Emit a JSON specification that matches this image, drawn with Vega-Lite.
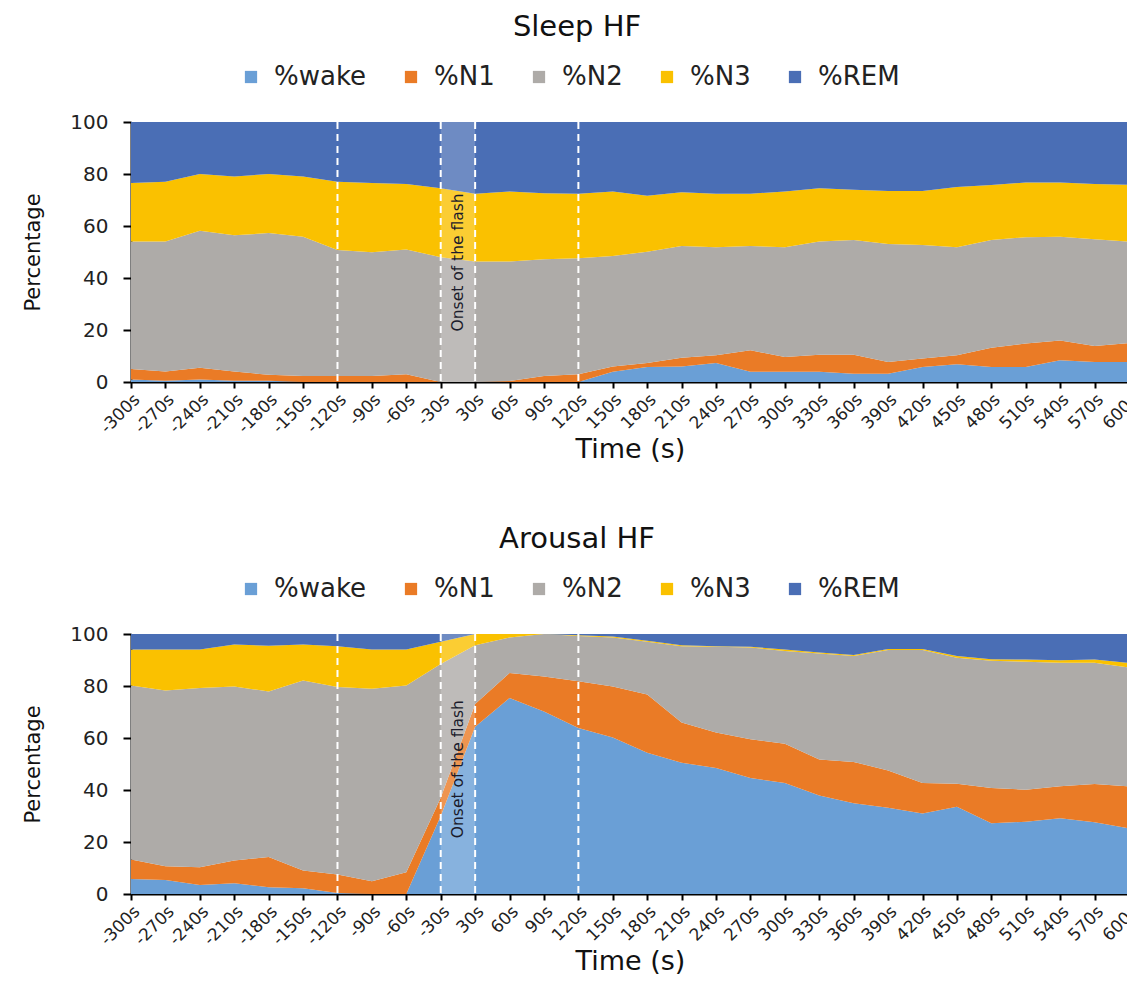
{
  "$schema": "https://vega.github.io/schema/vega-lite/v6.json",
  "background": "white",
  "padding": {"left": 22, "top": 12, "right": 0, "bottom": 0},
  "config": {
    "view": {"stroke": "#d4d9e2", "strokeWidth": 1},
    "font": "DejaVu Sans"
  },
  "datasets": {
    "sleep": [
      {"t": "-300s", "wake": 1, "n1": 4, "n2": 49, "n3": 22.5, "rem": 23.5},
      {"t": "-270s", "wake": 0.5, "n1": 3.5, "n2": 50, "n3": 23, "rem": 23},
      {"t": "-240s", "wake": 1, "n1": 4.5, "n2": 52.7, "n3": 21.8, "rem": 20},
      {"t": "-210s", "wake": 0.5, "n1": 3.5, "n2": 52.4, "n3": 22.6, "rem": 21},
      {"t": "-180s", "wake": 0.5, "n1": 2.3, "n2": 54.5, "n3": 22.7, "rem": 20},
      {"t": "-150s", "wake": 0, "n1": 2.3, "n2": 53.6, "n3": 23.1, "rem": 21},
      {"t": "-120s", "wake": 0, "n1": 2.3, "n2": 48.5, "n3": 26.2, "rem": 23},
      {"t": "-90s", "wake": 0, "n1": 2.3, "n2": 47.6, "n3": 26.6, "rem": 23.5},
      {"t": "-60s", "wake": 0, "n1": 3, "n2": 48, "n3": 25.2, "rem": 23.8},
      {"t": "-30s", "wake": 0, "n1": 0, "n2": 48, "n3": 26.5, "rem": 25.5},
      {"t": "30s", "wake": 0, "n1": 0, "n2": 46.3, "n3": 26.1, "rem": 27.6},
      {"t": "60s", "wake": 0, "n1": 0.4, "n2": 45.9, "n3": 27, "rem": 26.7},
      {"t": "90s", "wake": 0, "n1": 2.3, "n2": 44.9, "n3": 25.4, "rem": 27.4},
      {"t": "120s", "wake": 0, "n1": 3, "n2": 44.6, "n3": 24.8, "rem": 27.6},
      {"t": "150s", "wake": 3.9, "n1": 2.1, "n2": 42.5, "n3": 24.8, "rem": 26.7},
      {"t": "180s", "wake": 5.8, "n1": 1.5, "n2": 42.8, "n3": 21.5, "rem": 28.4},
      {"t": "210s", "wake": 6, "n1": 3.3, "n2": 43, "n3": 20.7, "rem": 27},
      {"t": "240s", "wake": 7.3, "n1": 3, "n2": 41.5, "n3": 20.6, "rem": 27.6},
      {"t": "270s", "wake": 3.9, "n1": 8.3, "n2": 40.1, "n3": 20.1, "rem": 27.6},
      {"t": "300s", "wake": 3.9, "n1": 5.7, "n2": 42.2, "n3": 21.5, "rem": 26.7},
      {"t": "330s", "wake": 3.9, "n1": 6.6, "n2": 43.5, "n3": 20.5, "rem": 25.5},
      {"t": "360s", "wake": 3.2, "n1": 7.3, "n2": 44.1, "n3": 19.3, "rem": 26.1},
      {"t": "390s", "wake": 3.2, "n1": 4.5, "n2": 45.4, "n3": 20.4, "rem": 26.5},
      {"t": "420s", "wake": 5.8, "n1": 3.2, "n2": 43.7, "n3": 20.8, "rem": 26.5},
      {"t": "450s", "wake": 6.8, "n1": 3.5, "n2": 41.5, "n3": 23.2, "rem": 25},
      {"t": "480s", "wake": 5.8, "n1": 7.4, "n2": 41.4, "n3": 21.2, "rem": 24.2},
      {"t": "510s", "wake": 5.8, "n1": 9, "n2": 40.9, "n3": 21, "rem": 23.3},
      {"t": "540s", "wake": 8.4, "n1": 7.6, "n2": 39.9, "n3": 20.8, "rem": 23.3},
      {"t": "570s", "wake": 7.7, "n1": 6.1, "n2": 41.1, "n3": 21.3, "rem": 23.8},
      {"t": "600s", "wake": 7.7, "n1": 7.3, "n2": 39, "n3": 21.8, "rem": 24.2}
    ],
    "arousal": [
      {"t": "-300s", "wake": 5.8, "n1": 7.5, "n2": 66.9, "n3": 13.8, "rem": 6},
      {"t": "-270s", "wake": 5.4, "n1": 5.3, "n2": 67.6, "n3": 15.7, "rem": 6},
      {"t": "-240s", "wake": 3.5, "n1": 6.8, "n2": 68.9, "n3": 14.8, "rem": 6},
      {"t": "-210s", "wake": 4.1, "n1": 8.8, "n2": 66.9, "n3": 16.2, "rem": 4},
      {"t": "-180s", "wake": 2.6, "n1": 11.6, "n2": 63.7, "n3": 17.6, "rem": 4.5},
      {"t": "-150s", "wake": 2.2, "n1": 6.8, "n2": 73.1, "n3": 13.9, "rem": 4},
      {"t": "-120s", "wake": 0.4, "n1": 7.1, "n2": 72.1, "n3": 15.7, "rem": 4.7},
      {"t": "-90s", "wake": 0, "n1": 4.9, "n2": 74, "n3": 15.1, "rem": 6},
      {"t": "-60s", "wake": 0, "n1": 8.4, "n2": 71.8, "n3": 13.8, "rem": 6},
      {"t": "-30s", "wake": 30, "n1": 7, "n2": 51.5, "n3": 8.5, "rem": 3},
      {"t": "30s", "wake": 64.3, "n1": 8.8, "n2": 22.6, "n3": 4.3, "rem": 0},
      {"t": "60s", "wake": 75.4, "n1": 9.6, "n2": 13.7, "n3": 1.3, "rem": 0},
      {"t": "90s", "wake": 70.2, "n1": 13.5, "n2": 16.3, "n3": 0, "rem": 0},
      {"t": "120s", "wake": 63.8, "n1": 18, "n2": 17.4, "n3": 0.3, "rem": 0.5},
      {"t": "150s", "wake": 60.2, "n1": 19.6, "n2": 18.9, "n3": 0.3, "rem": 1},
      {"t": "180s", "wake": 54.3, "n1": 22.4, "n2": 20.3, "n3": 0.4, "rem": 2.6},
      {"t": "210s", "wake": 50.5, "n1": 15.5, "n2": 29.3, "n3": 0.4, "rem": 4.3},
      {"t": "240s", "wake": 48.5, "n1": 13.6, "n2": 33, "n3": 0.2, "rem": 4.7},
      {"t": "270s", "wake": 44.6, "n1": 14.9, "n2": 35.3, "n3": 0.3, "rem": 4.9},
      {"t": "300s", "wake": 42.7, "n1": 15.1, "n2": 35.7, "n3": 0.5, "rem": 6},
      {"t": "330s", "wake": 37.9, "n1": 13.8, "n2": 40.8, "n3": 0.4, "rem": 7.1},
      {"t": "360s", "wake": 34.9, "n1": 15.9, "n2": 40.7, "n3": 0.4, "rem": 8.1},
      {"t": "390s", "wake": 33.2, "n1": 14.3, "n2": 46.3, "n3": 0.4, "rem": 5.8},
      {"t": "420s", "wake": 31, "n1": 11.7, "n2": 51.1, "n3": 0.4, "rem": 5.8},
      {"t": "450s", "wake": 33.6, "n1": 8.8, "n2": 48.5, "n3": 0.6, "rem": 8.5},
      {"t": "480s", "wake": 27.2, "n1": 13.6, "n2": 48.9, "n3": 0.6, "rem": 9.7},
      {"t": "510s", "wake": 27.8, "n1": 12.3, "n2": 49.2, "n3": 0.9, "rem": 9.8},
      {"t": "540s", "wake": 29.1, "n1": 12.3, "n2": 47.5, "n3": 1, "rem": 10.1},
      {"t": "570s", "wake": 27.6, "n1": 14.7, "n2": 46.6, "n3": 1.3, "rem": 9.8},
      {"t": "600s", "wake": 25.2, "n1": 16.2, "n2": 45.7, "n3": 1.8, "rem": 11.1}
    ],
    "guides": [{"t": "-120s"}, {"t": "-30s"}, {"t": "30s"}, {"t": "120s"}],
    "band": [{"t": "-30s"}, {"t": "30s"}],
    "note": [{"t": "-30s", "note": "Onset of the flash"}]
  },
  "vconcat": [
    {
      "width": 998,
      "height": 260,
      "title": {"text": "Sleep HF", "font": "DejaVu Sans", "fontSize": 29, "fontWeight": "normal", "color": "#111111", "anchor": "middle", "dx": -53, "offset": 22},
      "layer": [
        {
          "data": {"name": "sleep"},
          "transform": [
            {"fold": ["wake", "n1", "n2", "n3", "rem"], "as": ["stage", "pct"]},
            {"lookup": "stage", "from": {"data": {"values": [
              {"stage": "wake", "label": "%wake", "rank": 1},
              {"stage": "n1", "label": "%N1", "rank": 2},
              {"stage": "n2", "label": "%N2", "rank": 3},
              {"stage": "n3", "label": "%N3", "rank": 4},
              {"stage": "rem", "label": "%REM", "rank": 5}
            ]}, "key": "stage", "fields": ["label", "rank"]}}
          ],
          "mark": {"type": "area", "interpolate": "linear"},
          "encoding": {
            "x": {
              "field": "t", "type": "ordinal",
              "scale": {"type": "point", "domain": ["-300s","-270s","-240s","-210s","-180s","-150s","-120s","-90s","-60s","-30s","30s","60s","90s","120s","150s","180s","210s","240s","270s","300s","330s","360s","390s","420s","450s","480s","510s","540s","570s","600s"], "padding": 0},
              "axis": {"title": "Time (s)", "titleFont": "DejaVu Sans", "titleFontSize": 27, "titleFontWeight": "normal", "titleColor": "#111111", "titlePadding": 1, "labelAngle": -45, "labelFont": "DejaVu Sans", "labelFontSize": 17, "labelColor": "#222222", "labelPadding": 3, "labelOverlap": false, "labelBound": false, "domainColor": "#000000", "domainWidth": 2, "tickColor": "#000000", "tickWidth": 2, "tickSize": 6}
            },
            "y": {
              "field": "pct", "type": "quantitative", "stack": "zero",
              "scale": {"domain": [0, 100], "nice": false},
              "axis": {"title": "Percentage", "values": [0, 20, 40, 60, 80, 100], "grid": false, "titleFont": "DejaVu Sans", "titleFontSize": 21, "titleFontWeight": "normal", "titleColor": "#111111", "titlePadding": 26, "labelFont": "DejaVu Sans", "labelFontSize": 20, "labelColor": "#222222", "labelPadding": 15, "domainColor": "#000000", "domainWidth": 2, "tickColor": "#000000", "tickWidth": 2, "tickSize": 8}
            },
            "color": {
              "field": "label", "type": "nominal",
              "scale": {"domain": ["%wake", "%N1", "%N2", "%N3", "%REM"], "range": ["#6a9fd6", "#ea7b26", "#aeaba8", "#fac100", "#4a6eb5"]},
              "legend": {"orient": "none", "legendX": 107, "legendY": -58, "direction": "horizontal", "title": null, "symbolType": "square", "symbolSize": 150, "symbolStrokeWidth": 0, "symbolOpacity": 1, "labelFont": "DejaVu Sans", "labelFontSize": 26, "labelColor": "#222222", "labelOffset": 10, "columnPadding": 31}
            },
            "order": {"field": "rank", "type": "quantitative"}
          }
        },
        {
          "data": {"name": "band"},
          "mark": {"type": "area", "color": "white", "opacity": 0.2},
          "encoding": {
            "x": {"field": "t", "type": "ordinal"},
            "y": {"datum": 100, "type": "quantitative"},
            "y2": {"datum": 0}
          }
        },
        {
          "data": {"name": "guides"},
          "mark": {"type": "rule", "color": "white", "strokeDash": [7, 5], "strokeWidth": 2},
          "encoding": {"x": {"field": "t", "type": "ordinal"}}
        },
        {
          "data": {"name": "note"},
          "mark": {"type": "text", "angle": 270, "font": "DejaVu Sans", "fontSize": 15.5, "color": "#1b1b2b", "align": "center", "baseline": "middle", "dy": 17},
          "encoding": {
            "x": {"field": "t", "type": "ordinal"},
            "y": {"datum": 46, "type": "quantitative"},
            "text": {"field": "note"}
          }
        }
      ]
    },
    {
      "width": 998,
      "height": 260,
      "title": {"text": "Arousal HF", "font": "DejaVu Sans", "fontSize": 29, "fontWeight": "normal", "color": "#111111", "anchor": "middle", "dx": -53, "offset": 22},
      "layer": [
        {
          "data": {"name": "arousal"},
          "transform": [
            {"fold": ["wake", "n1", "n2", "n3", "rem"], "as": ["stage", "pct"]},
            {"lookup": "stage", "from": {"data": {"values": [
              {"stage": "wake", "label": "%wake", "rank": 1},
              {"stage": "n1", "label": "%N1", "rank": 2},
              {"stage": "n2", "label": "%N2", "rank": 3},
              {"stage": "n3", "label": "%N3", "rank": 4},
              {"stage": "rem", "label": "%REM", "rank": 5}
            ]}, "key": "stage", "fields": ["label", "rank"]}}
          ],
          "mark": {"type": "area", "interpolate": "linear"},
          "encoding": {
            "x": {
              "field": "t", "type": "ordinal",
              "scale": {"type": "point", "domain": ["-300s","-270s","-240s","-210s","-180s","-150s","-120s","-90s","-60s","-30s","30s","60s","90s","120s","150s","180s","210s","240s","270s","300s","330s","360s","390s","420s","450s","480s","510s","540s","570s","600s"], "padding": 0},
              "axis": {"title": "Time (s)", "titleFont": "DejaVu Sans", "titleFontSize": 27, "titleFontWeight": "normal", "titleColor": "#111111", "titlePadding": 1, "labelAngle": -45, "labelFont": "DejaVu Sans", "labelFontSize": 17, "labelColor": "#222222", "labelPadding": 3, "labelOverlap": false, "labelBound": false, "domainColor": "#000000", "domainWidth": 2, "tickColor": "#000000", "tickWidth": 2, "tickSize": 6}
            },
            "y": {
              "field": "pct", "type": "quantitative", "stack": "zero",
              "scale": {"domain": [0, 100], "nice": false},
              "axis": {"title": "Percentage", "values": [0, 20, 40, 60, 80, 100], "grid": false, "titleFont": "DejaVu Sans", "titleFontSize": 21, "titleFontWeight": "normal", "titleColor": "#111111", "titlePadding": 26, "labelFont": "DejaVu Sans", "labelFontSize": 20, "labelColor": "#222222", "labelPadding": 15, "domainColor": "#000000", "domainWidth": 2, "tickColor": "#000000", "tickWidth": 2, "tickSize": 8}
            },
            "color": {
              "field": "label", "type": "nominal",
              "scale": {"domain": ["%wake", "%N1", "%N2", "%N3", "%REM"], "range": ["#6a9fd6", "#ea7b26", "#aeaba8", "#fac100", "#4a6eb5"]},
              "legend": {"orient": "none", "legendX": 107, "legendY": -58, "direction": "horizontal", "title": null, "symbolType": "square", "symbolSize": 150, "symbolStrokeWidth": 0, "symbolOpacity": 1, "labelFont": "DejaVu Sans", "labelFontSize": 26, "labelColor": "#222222", "labelOffset": 10, "columnPadding": 31}
            },
            "order": {"field": "rank", "type": "quantitative"}
          }
        },
        {
          "data": {"name": "band"},
          "mark": {"type": "area", "color": "white", "opacity": 0.2},
          "encoding": {
            "x": {"field": "t", "type": "ordinal"},
            "y": {"datum": 100, "type": "quantitative"},
            "y2": {"datum": 0}
          }
        },
        {
          "data": {"name": "guides"},
          "mark": {"type": "rule", "color": "white", "strokeDash": [7, 5], "strokeWidth": 2},
          "encoding": {"x": {"field": "t", "type": "ordinal"}}
        },
        {
          "data": {"name": "note"},
          "mark": {"type": "text", "angle": 270, "font": "DejaVu Sans", "fontSize": 15.5, "color": "#1b1b2b", "align": "center", "baseline": "middle", "dy": 17},
          "encoding": {
            "x": {"field": "t", "type": "ordinal"},
            "y": {"datum": 48, "type": "quantitative"},
            "text": {"field": "note"}
          }
        }
      ]
    }
  ],
  "spacing": 60,
  "resolve": {"scale": {"color": "independent", "x": "independent", "y": "independent"}, "legend": {"color": "independent"}}
}
